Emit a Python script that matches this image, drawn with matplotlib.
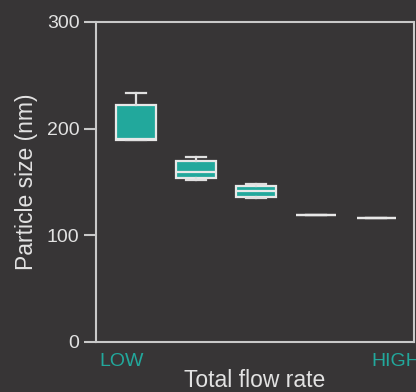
import matplotlib
matplotlib.use("Agg")
import matplotlib.pyplot as plt

plt.rcParams["font.family"] = ["Liberation Sans", "DejaVu Sans"]

# box statistics (nm)
positions = [1, 2, 3, 4, 5]
whisker_low = [189, 152, 135, 119, 116]
q1 = [189, 154, 136, 119, 116]
median = [190, 159, 141.5, 119, 116]
q3 = [222, 170, 146, 119, 116]
whisker_high = [233, 173, 148, 119, 116]

y_ticks = [0, 100, 200, 300]

BG = "#373536"
LINE = "#c9c9c9"
TEAL = "#22a89c"
TEXT = "#e2e2e2"

stats = []
for lo, a, m, b, hi in zip(whisker_low, q1, median, q3, whisker_high):
    stats.append({"whislo": lo, "q1": a, "med": m, "q3": b, "whishi": hi, "fliers": []})

fig = plt.figure(figsize=(4.16, 3.92), dpi=100, facecolor=BG)
ax = fig.add_axes([0.2308, 0.1276, 0.7642, 0.8163], facecolor=BG)

ax.bxp(stats, positions=positions, widths=0.66, patch_artist=True,
       boxprops=dict(facecolor=TEAL, edgecolor="#e8e8e8", linewidth=1.6),
       medianprops=dict(color="#e8e8e8", linewidth=1.6),
       whiskerprops=dict(color="#e0e0e0", linewidth=1.6),
       capprops=dict(color="#e0e0e0", linewidth=1.6),
       showfliers=False)

ax.set_xlim(0.333, 5.625)
ax.set_ylim(0, 300)
ax.set_yticks(y_ticks)
ax.set_xticks([])

for s in ax.spines.values():
    s.set_color(LINE)
    s.set_linewidth(1.5)

ax.tick_params(axis="y", colors=LINE, length=9, width=1.5, labelsize=14,
               labelcolor=TEXT, pad=3)

ax.set_ylabel("Particle size (nm)", fontsize=16.5, color=TEXT, labelpad=6)
ax.text(0.01, -0.035, "LOW", transform=ax.transAxes, ha="left", va="top",
        color=TEAL, fontsize=14)
ax.text(0.865, -0.035, "HIGH", transform=ax.transAxes, ha="left", va="top",
        color=TEAL, fontsize=14, clip_on=False)
ax.text(0.5, -0.085, "Total flow rate", transform=ax.transAxes, ha="center",
        va="top", color=TEXT, fontsize=16.5)

fig.savefig("out.png", dpi=100, facecolor=BG)
